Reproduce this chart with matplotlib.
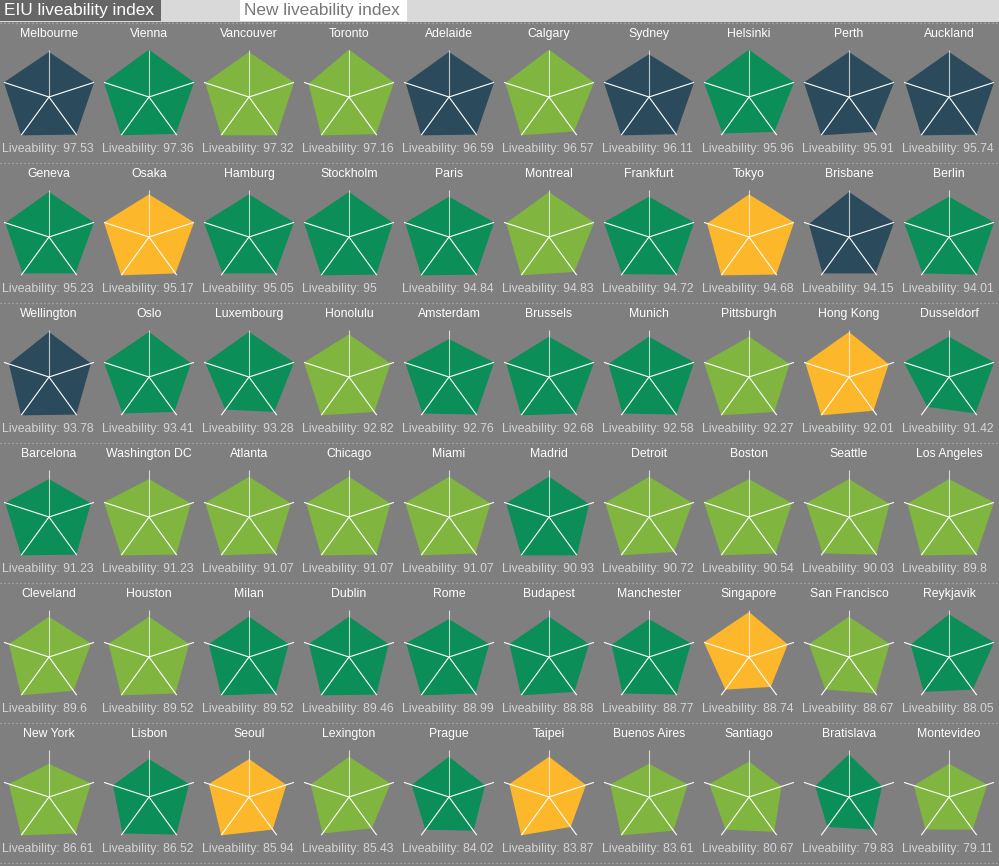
import numpy as np
import matplotlib
matplotlib.use('Agg')
import matplotlib.pyplot as plt
from matplotlib.patches import Rectangle

plt.rcParams['font.family'] = ['Liberation Sans', 'DejaVu Sans']

# cities in ranking order, 10 per row
cities = ['Melbourne', 'Vienna', 'Vancouver', 'Toronto', 'Adelaide', 'Calgary', 'Sydney', 'Helsinki', 'Perth', 'Auckland',
          'Geneva', 'Osaka', 'Hamburg', 'Stockholm', 'Paris', 'Montreal', 'Frankfurt', 'Tokyo', 'Brisbane', 'Berlin',
          'Wellington', 'Oslo', 'Luxembourg', 'Honolulu', 'Amsterdam', 'Brussels', 'Munich', 'Pittsburgh', 'Hong Kong', 'Dusseldorf',
          'Barcelona', 'Washington DC', 'Atlanta', 'Chicago', 'Miami', 'Madrid', 'Detroit', 'Boston', 'Seattle', 'Los Angeles',
          'Cleveland', 'Houston', 'Milan', 'Dublin', 'Rome', 'Budapest', 'Manchester', 'Singapore', 'San Francisco', 'Reykjavik',
          'New York', 'Lisbon', 'Seoul', 'Lexington', 'Prague', 'Taipei', 'Buenos Aires', 'Santiago', 'Bratislava', 'Montevideo']

scores = [97.53, 97.36, 97.32, 97.16, 96.59, 96.57, 96.11, 95.96, 95.91, 95.74,
          95.23, 95.17, 95.05, 95, 94.84, 94.83, 94.72, 94.68, 94.15, 94.01,
          93.78, 93.41, 93.28, 92.82, 92.76, 92.68, 92.58, 92.27, 92.01, 91.42,
          91.23, 91.23, 91.07, 91.07, 91.07, 90.93, 90.72, 90.54, 90.03, 89.8,
          89.6, 89.52, 89.52, 89.46, 88.99, 88.88, 88.77, 88.74, 88.67, 88.05,
          86.61, 86.52, 85.94, 85.43, 84.02, 83.87, 83.61, 80.67, 79.83, 79.11]

regions = ['oce', 'eur', 'ame', 'ame', 'oce', 'ame', 'oce', 'eur', 'oce', 'oce',
           'eur', 'asia', 'eur', 'eur', 'eur', 'ame', 'eur', 'asia', 'oce', 'eur',
           'oce', 'eur', 'eur', 'ame', 'eur', 'eur', 'eur', 'ame', 'asia', 'eur',
           'eur', 'ame', 'ame', 'ame', 'ame', 'eur', 'ame', 'ame', 'ame', 'ame',
           'ame', 'ame', 'eur', 'eur', 'eur', 'eur', 'eur', 'asia', 'ame', 'eur',
           'ame', 'eur', 'asia', 'ame', 'eur', 'asia', 'ame', 'ame', 'eur', 'ame']

# category ratings, clockwise from the top spoke
stability = [95, 100, 95, 100, 95, 100, 90, 100, 95, 95,
             95, 90, 90, 95, 85, 95, 85, 90, 95, 85,
             95, 95, 95, 90, 80, 85, 85, 85, 95, 85,
             80, 80, 85, 85, 85, 85, 85, 80, 80, 80,
             85, 85, 85, 85, 80, 85, 80, 95, 85, 90,
             70, 80, 80, 85, 85, 85, 70, 75, 90, 70]
healthcare = [100, 100, 100, 100, 100, 100, 100, 100, 100, 100,
              100, 100, 100, 97, 100, 100, 100, 100, 100, 100,
              93, 93, 100, 92, 100, 100, 100, 90, 88, 100,
              93, 93, 93, 92, 92, 89, 96, 95, 90, 100,
              93, 89, 88, 88, 89, 89, 93, 86, 90, 100,
              93, 89, 83, 92, 80, 82, 86, 72, 73, 85]
culture = [98, 96, 100, 97, 98, 90, 97, 91, 91, 98,
           95, 95, 95, 98, 98, 91, 98, 98, 95, 98,
           98, 91, 91, 91, 98, 95, 98, 91, 88, 95,
           98, 98, 95, 98, 95, 100, 91, 95, 98, 98,
           88, 95, 95, 98, 95, 91, 98, 78, 95, 85,
           95, 98, 85, 82, 88, 78, 88, 91, 85, 85]
education = [100, 100, 100, 100, 100, 100, 100, 95, 100, 100,
             95, 100, 95, 100, 100, 100, 97, 100, 95, 95,
             100, 95, 85, 100, 95, 100, 95, 100, 100, 78,
             100, 100, 100, 100, 100, 100, 100, 100, 95, 100,
             100, 100, 100, 100, 100, 100, 95, 85, 85, 91,
             100, 95, 100, 95, 85, 100, 100, 85, 78, 85]
infrastructure = [100, 100, 97, 90, 96, 97, 100, 100, 100, 97,
                  97, 100, 100, 100, 97, 95, 100, 93, 89, 100,
                  89, 100, 97, 100, 97, 95, 90, 100, 97, 100,
                  97, 100, 97, 95, 97, 95, 97, 100, 95, 92,
                  89, 90, 89, 89, 95, 88, 83, 100, 89, 85,
                  89, 80, 89, 85, 83, 88, 86, 88, 75, 78]

colors = {'oce': '#2b4a5b', 'eur': '#0b8e58', 'ame': '#80b540', 'asia': '#fcb72b'}

W, H = 999, 866
ncol = 10
cell_w, cell_h = 100, 140
top0 = 23      # first dotted separator
R = 47.4       # spoke length in px

fig = plt.figure(figsize=(W / 100, H / 100), dpi=100, facecolor='#7f7f7f')

# background axes in pixel units for header, separators and labels
bg = fig.add_axes([0, 0, 1, 1])
bg.set_xlim(0, W)
bg.set_ylim(H, 0)
bg.axis('off')

bg.add_patch(Rectangle((0, 0), W, 21.5, color='#d9d9d9', lw=0))
bg.add_patch(Rectangle((0, 0), 161, 21, color='#666666', lw=0))
bg.add_patch(Rectangle((240, 0), 167, 21, color='#ffffff', lw=0))
bg.text(4, 15.3, 'EIU liveability index', color='white', fontsize=12.4, va='baseline', ha='left')
bg.text(244, 15.3, 'New liveability index', color='#777777', fontsize=12.4, va='baseline', ha='left')

nrow = len(cities) // ncol
for r in range(nrow + 1):
    bg.axhline(top0 + r * cell_h, color='#b3b3b3', lw=0.9, linestyle=(0, (1, 2.2)))

theta = np.linspace(0, 2 * np.pi, 5, endpoint=False)

for i, city in enumerate(cities):
    r, c = divmod(i, ncol)
    x0 = c * cell_w
    y0 = top0 + r * cell_h
    cx, cy = x0 + 49, y0 + 74

    bg.text(cx, y0 + 14.3, city, color='white', fontsize=8.8, ha='center', va='baseline')
    bg.text(x0 + 2, y0 + 128.7, f'Liveability: {scores[i]:g}', color='#d6d6d6',
            fontsize=8.8, ha='left', va='baseline')

    ax = fig.add_axes([(cx - R) / W, (H - cy - R) / H, 2 * R / W, 2 * R / H], projection='polar')
    ax.set_theta_offset(np.pi / 2)
    ax.set_theta_direction(-1)
    ax.set_ylim(0, 100)
    ax.axis('off')

    vals = [stability[i], healthcare[i], culture[i], education[i], infrastructure[i]]
    ax.fill(np.append(theta, theta[0]), vals + vals[:1], color=colors[regions[i]], lw=0)
    for k, t in enumerate(theta):
        ax.plot([t, t], [0, 100], color='white', lw=0.8, alpha=0.7 if k == 0 else 1.0,
                solid_capstyle='butt')

fig.savefig('out.png', dpi=100, facecolor=fig.get_facecolor())
